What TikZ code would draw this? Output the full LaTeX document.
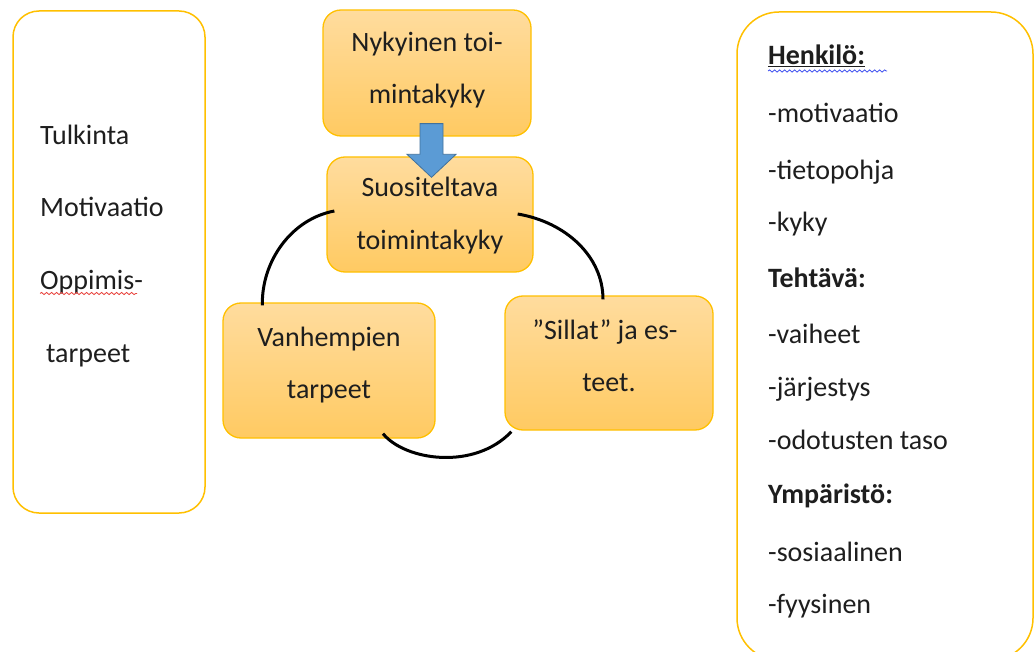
\documentclass[tikz,border=0pt]{standalone}
\usepackage{fontspec}
\setmainfont{Carlito}
\usetikzlibrary{calc,decorations.pathmorphing}

\definecolor{gold}{HTML}{FFC000}
\definecolor{boxtop}{HTML}{FFDC9E}
\definecolor{boxbot}{HTML}{FFCA62}
\definecolor{arrowblue}{HTML}{5B9BD5}
\definecolor{arrowedge}{HTML}{41719C}
\definecolor{ink}{HTML}{1E1E1E}
\definecolor{spellred}{HTML}{E8403A}
\definecolor{spellblue}{HTML}{3D4EF0}

\begin{document}
\begin{tikzpicture}[x=1pt,y=-1pt,
  panel/.style={draw=gold, line width=1.5pt, fill=white, inner sep=0pt},
  stepbox/.style={draw=gold, line width=1.3pt, rounded corners=18pt,
    top color=boxtop, bottom color=boxbot, inner sep=0pt},
  txt/.style={text=ink, inner sep=0pt, font=\fontsize{28}{34}\selectfont},
  ltxt/.style={txt, anchor=base west},
  ctxt/.style={txt, anchor=base},
  link/.style={draw=black, line width=3pt},
  squiggle/.style={line width=0.8pt, decorate,
    decoration={snake, amplitude=1.1pt, segment length=5pt}}
]
\useasboundingbox (0,0) rectangle (1035,652);
\clip (0,0) rectangle (1035,652);
\fill[white] (0,0) rectangle (1035,652);

% side panels
\node[panel, rounded corners=26pt, minimum width=192pt, minimum height=502pt]
  (leftpanel) at (109,262) {};
\node[panel, rounded corners=42pt, minimum width=296pt, minimum height=648pt]
  (rightpanel) at (885,336) {};

% left panel text
\node[ltxt] (tulk) at (40,145) {Tulkinta};
\node[ltxt] (moti) at (40,217) {Motivaatio};
\node[ltxt] (oppi) at (40,289) {Oppimis-};
\node[ltxt] (tarp) at (46,362) {tarpeet};
\draw[spellred, squiggle] ($(oppi.base west)+(0,4.5)$) -- ($(oppi.base west)+(97,4.5)$);

% right panel text
\node[ltxt, font=\fontsize{28}{34}\selectfont\bfseries] (henk) at (768,65) {Henkilö:};
\node[ltxt] (r1) at (768,123) {-motivaatio};
\node[ltxt] (r2) at (768,180) {-tietopohja};
\node[ltxt] (r3) at (768,232) {-kyky};
\node[ltxt, font=\fontsize{28}{34}\selectfont\bfseries] (teht) at (768,287) {Tehtävä:};
\node[ltxt] (r4) at (768,343) {-vaiheet};
\node[ltxt] (r5) at (768,396) {-järjestys};
\node[ltxt] (r6) at (768,449) {-odotusten taso};
\node[ltxt, font=\fontsize{28}{34}\selectfont\bfseries] (ymp) at (768,503) {Ympäristö:};
\node[ltxt] (r7) at (768,561) {-sosiaalinen};
\node[ltxt] (r8) at (768,613) {-fyysinen};
\draw[ink, line width=1pt] ($(henk.base west)+(0,2)$) -- ($(henk.base east)+(0,2)$);
\draw[spellblue, squiggle] ($(henk.base west)+(0,6)$) -- ($(henk.base west)+(119,6)$);

% cycle boxes
\node[stepbox, minimum width=208pt, minimum height=126pt] (now) at (427,73) {};
\node[stepbox, minimum width=206pt, minimum height=115pt] (goal) at (430,214.5) {};
\node[stepbox, minimum width=212pt, minimum height=135pt] (parents) at (329,370.5) {};
\node[stepbox, minimum width=208pt, minimum height=134pt] (bridges) at (609,363) {};

\node[ctxt] (now1) at (427,52) {Nykyinen toi-};
\node[ctxt] (now2) at (427,104) {mintakyky};
\node[ctxt] (goal1) at (430,197) {Suositeltava};
\node[ctxt] (goal2) at (430,249) {toimintakyky};
\node[ctxt] (par1) at (329,346) {Vanhempien};
\node[ctxt] (par2) at (329,398) {tarpeet};
\node[ctxt] (bri1) at (605,339) {”Sillat” ja es-};
\node[ctxt] (bri2) at (609,391) {teet.};

% cycle connectors
\draw[link] ($(goal.west)+(8,-3.5)$) .. controls +(-43,8) and +(-1,-44) .. ($(parents.north west)+(40,3)$);
\draw[link] ($(goal.east)+(-16,-0.5)$) .. controls +(48,8) and +(0,-43) .. ($(bridges.north)+(-6,4)$);
\draw[link] ($(parents.south)+(54,-5)$) .. controls +(22,27) and +(-37,39) .. ($(bridges.south west)+(7,1)$);

% block arrow from current to recommended ability
\coordinate (as) at ($(now.south)+(4.5,-13)$);
\coordinate (ae) at ($(goal.north)+(1.5,21)$);
\draw[arrowedge, line width=0.8pt, fill=arrowblue, line join=miter]
  ($(as)+(-11.5,0)$) -- ($(as)+(11.5,0)$) -- ($(ae)+(11.5,-23)$) -- ($(ae)+(24.5,-23)$)
  -- (ae) -- ($(ae)+(-24.5,-23)$) -- ($(ae)+(-11.5,-23)$) -- cycle;
\end{tikzpicture}
\end{document}
